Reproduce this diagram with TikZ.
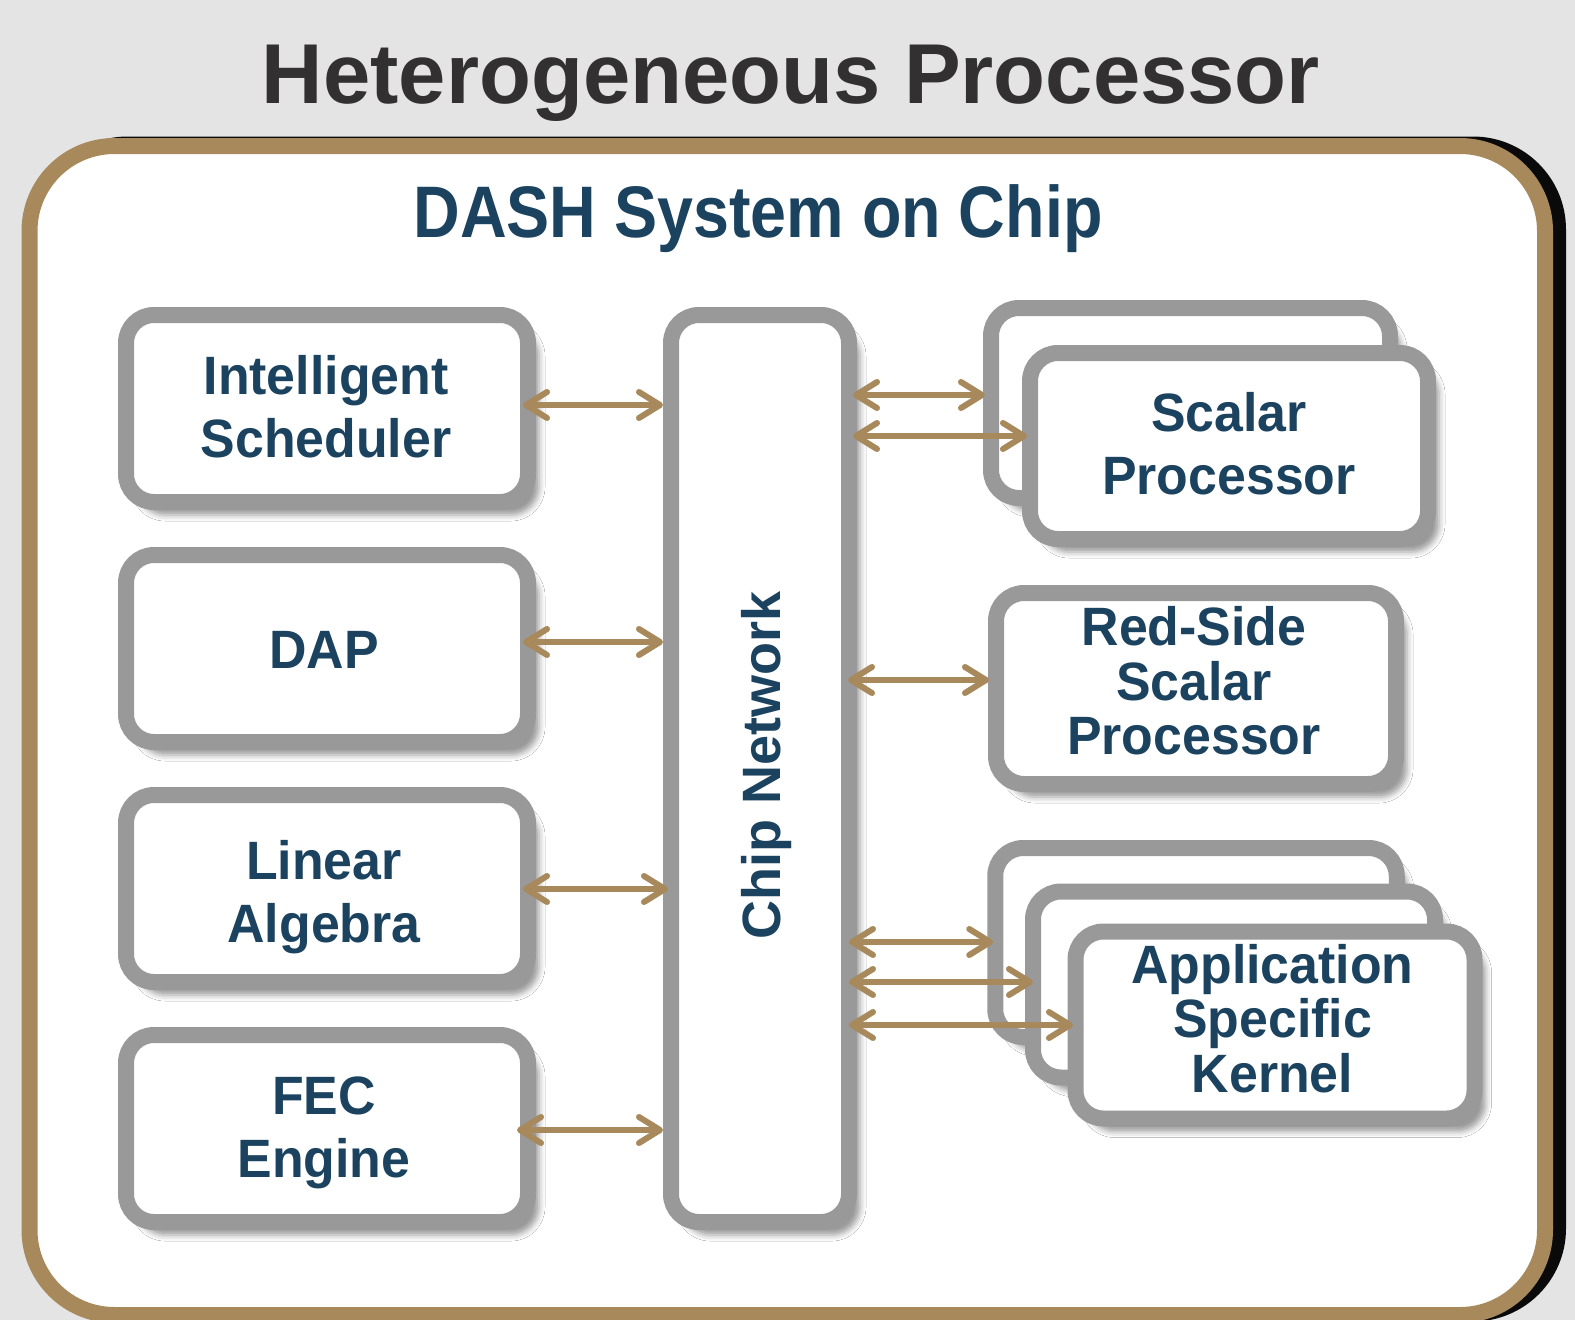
\documentclass[tikz,border=0pt]{standalone}
\usepackage{fontspec}
\setmainfont{Liberation Sans}
\newfontfamily\boxfont{Liberation Sans}[FakeStretch=0.96]
\newfontfamily\dashfont{Liberation Sans}[FakeStretch=0.885]
\usetikzlibrary{arrows.meta,calc,shadows.blur}
\definecolor{bgc}{HTML}{E4E4E4}
\definecolor{brownc}{HTML}{A8895C}
\definecolor{grayc}{HTML}{999999}
\definecolor{bluec}{HTML}{1B425E}
\definecolor{titlec}{HTML}{323031}
\definecolor{shadowc}{HTML}{0A0A0A}
\tikzset{
  unitbox/.style={draw=grayc, fill=white, line width=16pt, rounded corners=28pt,
    inner sep=0pt, outer sep=0pt,
    blur shadow={shadow xshift=11pt, shadow yshift=-13pt, shadow blur radius=6pt, shadow opacity=40}},
  boxtext/.style={text=bluec, align=center, inner sep=0pt,
    font=\boxfont\bfseries\fontsize{54}{63}\selectfont},
  boxtextc/.style={text=bluec, align=center, inner sep=0pt,
    font=\boxfont\bfseries\fontsize{54}{54.5}\selectfont},
  link/.style={draw=brownc, line width=6pt,
    >={Straight Barb[length=21pt,width=26pt,round]}, <->},
}
\begin{document}
\begin{tikzpicture}[x=1pt,y=-1pt]
\useasboundingbox (0,0) rectangle (1575,1320);
\fill[bgc] (0,0) rectangle (1575,1320);

% outer frame with hard shadow
\fill[shadowc, rounded corners=93pt] (34.5,136.5) rectangle (1566,1321.5);
\draw[draw=brownc, fill=white, line width=16pt, rounded corners=85pt] (29.5,146) rectangle (1545,1315);

% titles
\node[font=\bfseries\fontsize{85}{100}\selectfont, text=titlec, anchor=base, inner sep=0pt] (title) at (791,103) {Heterogeneous Processor};
\node[font=\dashfont\bfseries\fontsize{73}{80}\selectfont, text=bluec, anchor=base, inner sep=0pt] (dash) at (758,237) {DASH System on Chip};

% left column
\node[unitbox, minimum width=402pt, minimum height=187pt] (sched) at (327,408.5) {};
\node[unitbox, minimum width=402pt, minimum height=187pt] (dap) at (327,648.5) {};
\node[unitbox, minimum width=402pt, minimum height=187pt] (linalg) at (327,888.5) {};
\node[unitbox, minimum width=402pt, minimum height=187pt] (fec) at (327,1128.5) {};
\node[boxtext] (schedtxt) at (326,406.5) {Intelligent\\Scheduler};
\node[boxtext] (daptxt) at (324,650) {DAP};
\node[boxtext] (linalgtxt) at (324,897) {Linear\\Algebra};
\node[boxtext] (fectxt) at (324,1133) {FEC\\Engine};

% chip network
\node[unitbox, minimum width=178pt, minimum height=907pt] (net) at (760,768.5) {};
\node[text=bluec, inner sep=0pt, rotate=90, font=\bfseries\fontsize{54}{60}\selectfont] (nettxt) at (767,765) {Chip Network};

% right column
\node[unitbox, minimum width=399pt, minimum height=190pt] (scalarback) at (1190.5,403) {};
\node[unitbox, minimum width=398pt, minimum height=186pt] (scalar) at (1229,446) {};
\node[boxtext] (scalartxt) at (1229,443.5) {Scalar\\Processor};

\node[unitbox, minimum width=400pt, minimum height=191pt] (redside) at (1196,688.5) {};
\node[boxtextc] (redsidetxt) at (1194,681) {Red-Side\\Scalar\\Processor};

\node[unitbox, minimum width=401.5pt, minimum height=189pt] (appback) at (1196,942.5) {};
\node[unitbox, minimum width=402pt, minimum height=186pt] (appmid) at (1234,984.5) {};
\node[unitbox, minimum width=399pt, minimum height=187pt] (app) at (1275,1025) {};
\node[boxtextc] (apptxt) at (1272.5,1018.5) {Application\\Specific\\Kernel};

% connectors left
\draw[link, shorten <=-5pt, shorten >=8pt] ($(sched.east)+(0,-3.5)$) -- ($(sched.east -| net.west)+(0,-3.5)$);
\draw[link, shorten <=-5pt, shorten >=8pt] ($(dap.east)+(0,-6.5)$) -- ($(dap.east -| net.west)+(0,-6.5)$);
\draw[link, shorten <=-5pt, shorten >=3pt] ($(linalg.east)+(0,0.5)$) -- ($(linalg.east -| net.west)+(0,0.5)$);
\draw[link, shorten <=-11pt, shorten >=8pt] ($(fec.east)+(0,1.5)$) -- ($(fec.east -| net.west)+(0,1.5)$);

% connectors right
\draw[link, shorten <=4pt, shorten >=6pt] ($(net.east |- scalarback.west)+(0,-8)$) -- ($(scalarback.west)+(0,-8)$);
\draw[link, shorten <=4pt, shorten >=3pt] ($(net.east |- scalar.west)+(0,-10)$) -- ($(scalar.west)+(0,-10)$);
\draw[link, shorten <=-1pt, shorten >=7pt] ($(net.east |- redside.west)+(0,-8.5)$) -- ($(redside.west)+(0,-8.5)$);
\draw[link, shorten <=0pt, shorten >=2pt] ($(net.east |- appback.west)+(0,-0.5)$) -- ($(appback.west)+(0,-0.5)$);
\draw[link, shorten <=0pt, shorten >=0pt] ($(net.east |- appmid.west)+(0,-2.5)$) -- ($(appmid.west)+(0,-2.5)$);
\draw[link, shorten <=0pt, shorten >=2.5pt] ($(net.east |- app.west)+(0,0)$) -- ($(app.west)+(0,0)$);
\end{tikzpicture}
\end{document}
